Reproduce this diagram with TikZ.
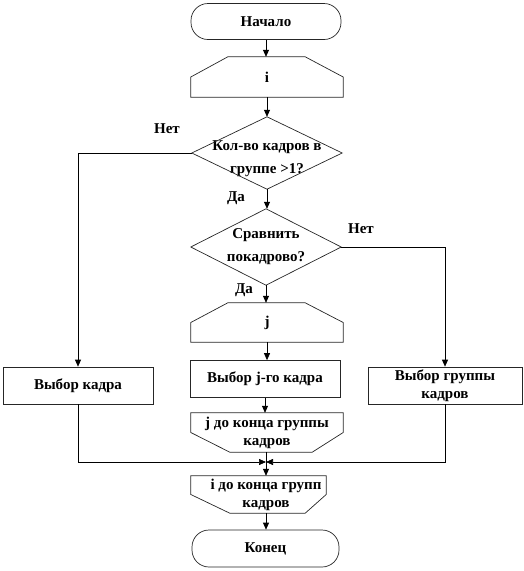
\documentclass[tikz,border=0pt]{standalone}
\usepackage{fontspec}
\setmainfont{Liberation Serif}
\usetikzlibrary{arrows.meta,calc}

\begin{document}
\begin{tikzpicture}[x=1pt,y=-1pt,
  font=\bfseries\fontsize{15}{18}\selectfont,
  outl/.style={draw=black!85, line width=0.7pt},
  term/.style={outl, rectangle, rounded corners=17pt, minimum width=150pt, minimum height=36pt, inner sep=0pt},
  proc/.style={outl, rectangle, minimum width=150pt, minimum height=37pt, inner sep=0pt, align=center},
  blank/.style={rectangle, inner sep=0pt, align=center},
  arr/.style={line width=0.7pt, -{Triangle[length=7pt,width=6pt]}},
  lbl/.style={inner sep=0pt}]
\useasboundingbox (0,0) rectangle (524,571);

% column of blocks
\node[term] (start) at (266,21.5) {Начало};
\node[blank, minimum width=152pt, minimum height=40pt] (iin) at (267,77) {i};
\node[blank, minimum width=150pt, minimum height=72pt] (dec1) at (267,153) {\rule{0pt}{22pt}Кол-во кадров в\\[5pt]группе >1?};
\node[blank, minimum width=150pt, minimum height=76pt] (dec2) at (266,247) {Сравнить\\[5pt]покадрово?};
\node[blank, minimum width=152pt, minimum height=39pt] (jin) at (267,322.5) {j};
\node[proc] (box2) at (265,379) {Выбор j-го кадра};
\node[blank, minimum width=152pt, minimum height=39pt] (jend) at (267,432.5) {j до конца группы\\кадров};
\node[blank, minimum width=150pt, minimum height=37pt] (iend) at (266,494.5) {i до конца групп\\кадров};
\node[term, minimum width=147pt, minimum height=37pt] (stop) at (265.5,548.5) {Конец};

% side blocks
\node[proc] (box1) at (78,385.5) {Выбор кадра};
\node[proc, minimum width=154pt] (box3) at (445,385.5) {Выбор группы\\кадров};

% outlines
\draw[outl] (iin.west) -- (iin.south west) -- (iin.south east) -- (iin.east)
  -- ([xshift=-38pt]iin.north east) -- ([xshift=37pt]iin.north west) -- cycle;
\draw[outl] (jin.west) -- (jin.south west) -- (jin.south east) -- (jin.east)
  -- ([xshift=-38pt]jin.north east) -- ([xshift=37pt]jin.north west) -- cycle;
\draw[outl] (dec1.north) -- (dec1.east) -- (dec1.south) -- (dec1.west) -- cycle;
\draw[outl] (dec2.north) -- (dec2.east) -- (dec2.south) -- (dec2.west) -- cycle;
\draw[outl] (jend.west) -- (jend.north west) -- (jend.north east) -- (jend.east)
  -- ([xshift=-31pt]jend.south east) -- ([xshift=39pt]jend.south west) -- cycle;
\draw[outl] (iend.west) -- (iend.north west) -- ([xshift=-15pt]iend.north east)
  -- ([xshift=-15pt]iend.east) -- ([xshift=-36pt]iend.south east)
  -- ([xshift=39pt]iend.south west) -- cycle;

% answers
\node[lbl] (no1) at (167,129) {Нет};
\node[lbl] (yes1) at (236,198) {Да};
\node[lbl] (no2) at (361,229) {Нет};
\node[lbl] (yes2) at (244,290) {Да};

% connectors
\draw[arr] (start.south) -- (start.south |- iin.north);
\draw[arr] (iin.south) -- (dec1.north);
\draw[arr] (dec1.south) -- (dec1.south |- dec2.north);
\draw[arr] (dec1.west) -| (box1.north);
\draw[arr] (dec2.east) -| (box3.north);
\draw[arr] (dec2.south) -- (dec2.south |- jin.north);
\draw[arr] (jin.south) -- (jin.south |- box2.north);
\draw[arr] (box2.south) -- (box2.south |- jend.north);
\coordinate (mrg) at (266,462);
\draw[arr] (box1.south) |- (mrg);
\draw[arr] (box3.south) |- (mrg);
\draw[arr] (jend.south -| mrg) -- (iend.north -| mrg);
\draw[arr] (iend.south -| mrg) -- (stop.north -| mrg);
\end{tikzpicture}
\end{document}
